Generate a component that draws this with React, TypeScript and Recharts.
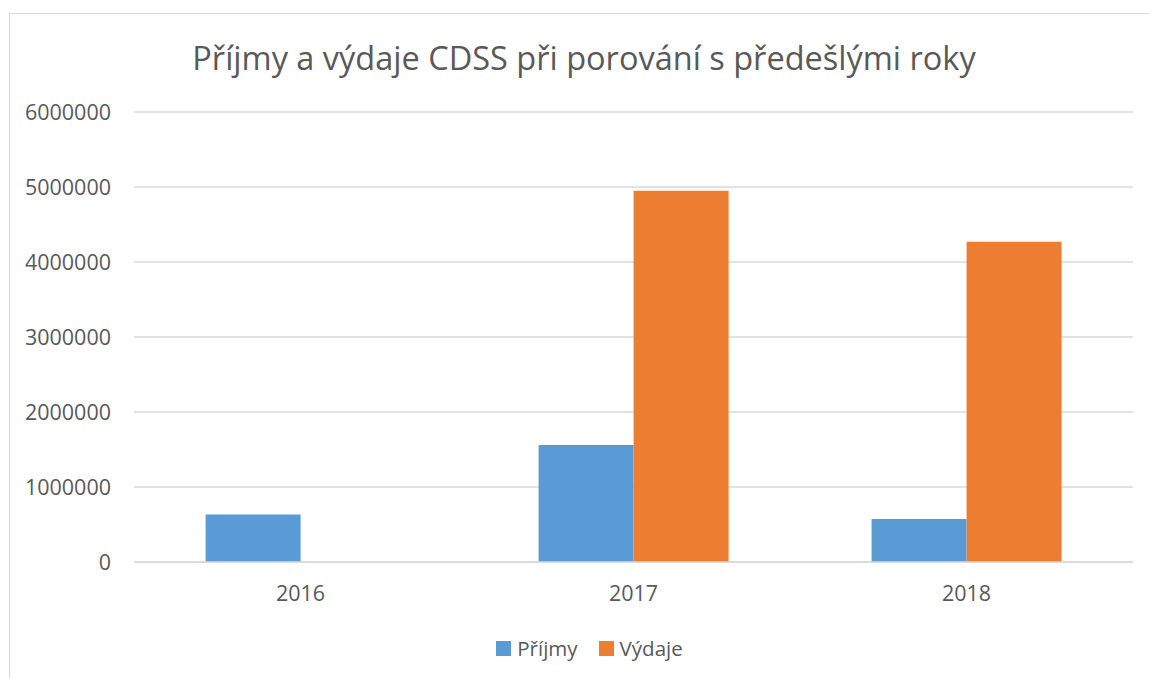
import React from 'react';
import { BarChart, Bar, XAxis, YAxis, CartesianGrid, Legend } from 'recharts';

const years = ['2016', '2017', '2018'];
const prijmy = [635000, 1560000, 575000];
const vydaje = [null, 4950000, 4270000];
const yTicks = [0, 1000000, 2000000, 3000000, 4000000, 5000000, 6000000];
const seriesNames = ['Příjmy', 'Výdaje'];
const colors = ['#5B9BD5', '#ED7D31'];

const data = years.map((y, i) => ({ year: y, prijmy: prijmy[i], vydaje: vydaje[i] }));

const FONT = '"Open Sans", sans-serif';
const TEXT = '#595959';

const renderLegend = () => (
  <div style={{ display: 'flex', justifyContent: 'center', alignItems: 'center', fontFamily: FONT, fontSize: 20.5, color: TEXT, paddingLeft: 46, paddingTop: 2 }}>
    {seriesNames.map((n, i) => (
      <div key={n} style={{ display: 'flex', alignItems: 'center', marginRight: i === 0 ? 21 : 0 }}>
        <span style={{ display: 'inline-block', width: 15, height: 15, background: colors[i], marginRight: 6 }} />
        <span>{n}</span>
      </div>
    ))}
  </div>
);

export default function App() {
  return (
    <div style={{ position: 'absolute', left: 0, top: 0, width: 1149, height: 678, overflow: 'hidden', background: '#fff' }}>
      <div style={{ position: 'absolute', left: 9, top: 13, width: 1160, height: 700, border: '1px solid #D9D9D9', boxSizing: 'border-box' }} />
      <div style={{ position: 'absolute', left: 9, width: 1150, top: 35, textAlign: 'center', fontFamily: FONT, fontSize: 32.5, color: TEXT, lineHeight: '46px', whiteSpace: 'nowrap' }}>
        Příjmy a výdaje CDSS při porování s předešlými roky
      </div>
      <div style={{ position: 'absolute', left: 0, top: 0 }}>
        <BarChart width={1149} height={678} data={data} margin={{ top: 112, right: 16, left: 0, bottom: 0 }} barCategoryGap="21.5%" barGap={0}>
          <CartesianGrid vertical={false} stroke="#D9D9D9" strokeWidth={1.3} />
          <XAxis dataKey="year" axisLine={{ stroke: '#D9D9D9', strokeWidth: 1.3 }} tickLine={false} tickSize={0} tickMargin={24} height={70}
            tick={{ fill: TEXT, fontSize: 21.5, fontFamily: FONT }} />
          <YAxis width={134} domain={[0, 6000000]} ticks={yTicks} axisLine={false} tickLine={false} tickSize={0} tickMargin={23}
            interval={0} tick={{ fill: TEXT, fontSize: 21.5, fontFamily: FONT }} />
          <Legend verticalAlign="bottom" height={46} content={renderLegend} />
          <Bar dataKey="prijmy" name={seriesNames[0]} fill={colors[0]} isAnimationActive={false} />
          <Bar dataKey="vydaje" name={seriesNames[1]} fill={colors[1]} isAnimationActive={false} />
        </BarChart>
      </div>
    </div>
  );
}
